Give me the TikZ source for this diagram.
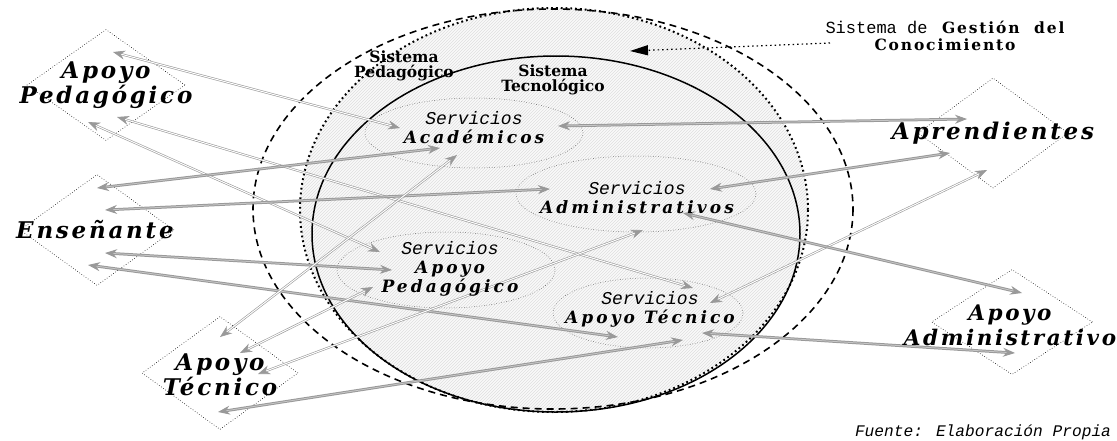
\documentclass[tikz,border=0pt]{standalone}
\usepackage{fontspec}
\setmainfont{DejaVu Serif}
\newfontfamily\anchafnt[LetterSpace=12]{DejaVu Serif}
\newfontfamily\servfnt[LetterSpace=18]{DejaVu Serif}
\newfontfamily\monofnt{Liberation Mono}
\usepackage{tikz}
\usetikzlibrary{arrows.meta,positioning,calc,shapes.geometric,patterns}

\tikzset{
  actor/.style={draw, dotted, diamond, inner sep=0pt, line width=0.6pt},
  actortxt/.style={font=\anchafnt\bfseries\itshape\fontsize{23}{25}\selectfont, align=center, inner sep=0pt},
  servicio/.style={draw=black!80, dotted, ellipse, inner sep=0pt, line width=0.5pt},
  servtxt/.style={font=\fontsize{17}{19}\selectfont, align=center, inner sep=0pt},
  sistxt/.style={font=\bfseries\fontsize{15.5}{14.5}\selectfont, align=center, inner sep=0pt},
  conn/.style={draw=gray!80, line width=0.6pt, double=white, double distance=1pt, <->, >={Stealth[length=12pt,width=9pt,color=gray!80,fill=gray!80]}},
  conng/.style={conn, line width=1pt, double=gray!45, double distance=0.8pt},
}

\begin{document}
\begin{tikzpicture}[x=1pt,y=-1pt]
  \useasboundingbox (0,0) rectangle (1117,440); % 図全体の範囲
  \fill[gray!4] (554,210) ellipse [x radius=254, y radius=202]; % 内側の地色
  \fill[pattern=north east lines, pattern color=gray!25] (554,210) ellipse [x radius=254, y radius=202]; % 斜線の網掛け
  \draw[line width=1.6pt, dash pattern=on 7pt off 5pt] (553,209) ellipse [x radius=300, y radius=200]; % 知識管理システム（破線）
  \draw[line width=2pt, dash pattern=on 1.8pt off 3pt] (554,210) ellipse [x radius=254, y radius=202]; % 教育システム（点線）
  \draw[line width=1.5pt] (556,234) ellipse [x radius=244, y radius=178]; % 技術システム（実線）

  \node[servicio, minimum width=218pt, minimum height=70pt] (acad) at (474,133) {}; % 学術サービス
  \node[servicio, minimum width=240pt, minimum height=76pt] (adm) at (636,194) {}; % 管理サービス
  \node[servicio, minimum width=218pt, minimum height=76pt] (svped) at (446,270) {}; % 教育支援サービス
  \node[servicio, minimum width=190pt, minimum height=70pt] (svtec) at (648,313) {}; % 技術支援サービス

  \node[actor, minimum width=158pt, minimum height=111pt] (apped) at (106,85) {}; % 教育支援者
  \node[actor, minimum width=154pt, minimum height=111pt] (ens) at (97,230) {}; % 教える人
  \node[actor, minimum width=156pt, minimum height=113pt] (aptec) at (220,373) {}; % 技術支援者
  \node[actor, minimum width=150pt, minimum height=110pt] (apr) at (993,133) {}; % 学ぶ人
  \node[actor, minimum width=161pt, minimum height=105pt] (apadm) at (1012,322) {}; % 管理支援者

  \draw[conn] ([shift={(7,-33)}]apped.center) -- ([shift={(-74,-5)}]acad.center); % 教育支援者と学術
  \draw[conn] ([shift={(11,32)}]apped.center) -- ([shift={(45,-25)}]svtec.center); % 教育支援者と技術支援
  \draw[conn] ([shift={(-18,37)}]apped.center) -- ([shift={(-66,-18)}]svped.center); % 教育支援者と教育支援
  \draw[conng] ([shift={(0,-42)}]ens.center) -- ([shift={(-34,15)}]acad.center); % 教える人と学術
  \draw[conng] ([shift={(8,-20)}]ens.center) -- ([shift={(-86,-5)}]adm.center); % 教える人と管理
  \draw[conng] ([shift={(8,23)}]ens.center) -- ([shift={(-54,0)}]svped.center); % 教える人と教育支援
  \draw[conng] ([shift={(-9,35)}]ens.center) -- ([shift={(-30,24)}]svtec.center); % 教える人と技術支援
  \draw[conn] ([shift={(0,-36)}]aptec.center) -- ([shift={(-17,22)}]acad.center); % 技術支援者と学術
  \draw[conn] ([shift={(20,-20)}]aptec.center) -- ([shift={(-73,17)}]svped.center); % 技術支援者と教育支援
  \draw[conn] ([shift={(38,1)}]aptec.center) -- ([shift={(7,36)}]adm.center); % 技術支援者と管理
  \draw[conng] ([shift={(-2,39)}]aptec.center) -- ([shift={(35,27)}]svtec.center); % 技術支援者と技術支援
  \draw[conng] ([shift={(84,-7)}]acad.center) -- ([shift={(-26,-14)}]apr.center); % 学術と学ぶ人
  \draw[conng] ([shift={(74,-5)}]adm.center) -- ([shift={(-43,20)}]apr.center); % 管理と学ぶ人
  \draw[conn] ([shift={(62,-10)}]svtec.center) -- ([shift={(-6,37)}]apr.center); % 技術支援と学ぶ人
  \draw[conng] ([shift={(47,19)}]adm.center) -- ([shift={(10,-29)}]apadm.center); % 管理と管理支援者
  \draw[conng] ([shift={(54,20)}]svtec.center) -- ([shift={(3,31)}]apadm.center); % 技術支援と管理支援者

  \node[servtxt] (acadT) at (474,128) {{\monofnt\itshape\fontsize{18}{19}\selectfont Servicios}\\{\servfnt\bfseries\itshape Académicos}}; % 学術サービスの文字
  \node[servtxt] (admT) at (637,198) {{\monofnt\itshape\fontsize{18}{19}\selectfont Servicios}\\{\servfnt\bfseries\itshape Administrativos}}; % 管理サービスの文字
  \node[servtxt] (svpedT) at (450,269) {{\monofnt\itshape\fontsize{18}{19}\selectfont Servicios}\\{\servfnt\bfseries\itshape Apoyo}\\{\servfnt\bfseries\itshape Pedagógico}}; % 教育支援サービスの文字
  \node[servtxt] (svtecT) at (650,309) {{\monofnt\itshape\fontsize{18}{19}\selectfont Servicios}\\{\servfnt\bfseries\itshape Apoyo Técnico}}; % 技術支援サービスの文字

  \node[actortxt] (appedT) at (106,85) {Apoyo\\Pedagógico}; % 教育支援者の文字
  \node[actortxt] (ensT) at (95,230) {Enseñante}; % 教える人の文字
  \node[actortxt] (aptecT) at (220,375) {Apoyo\\Técnico}; % 技術支援者の文字
  \node[actortxt] (aprT) at (993,133) {Aprendientes}; % 学ぶ人の文字
  \node[actortxt, font=\anchafnt\bfseries\itshape\fontsize{21.5}{25}\selectfont] (apadmT) at (1010,325) {Apoyo\\Administrativo}; % 管理支援者の文字

  \node[sistxt] (sisped) at (404,66) {Sistema\\Pedagógico}; % 教育システムの名前
  \node[sistxt] (sistec) at (553,80) {Sistema\\Tecnológico}; % 技術システムの名前
  \node[font=\anchafnt\bfseries\fontsize{15.5}{17}\selectfont, align=center, inner sep=0pt] (sgc) at (945,36) {{\monofnt\mdseries\fontsize{17}{17}\selectfont Sistema de}\ \ Gestión\ \ del\\Conocimiento}; % 知識管理システムの名前
  \coordinate (sgcTip) at (630,51); % 矢印の先
  \draw[line width=1.2pt, dash pattern=on 1.5pt off 3pt, -{Triangle[length=18pt,width=10pt]}] ([shift={(-115,7)}]sgc.center) -- (sgcTip); % 名前から破線へ
  \node[font=\monofnt\itshape\fontsize{16.2}{18}\selectfont, inner sep=0pt] (fuente) at (983,432) {Fuente: Elaboración Propia}; % 出典
\end{tikzpicture}
\end{document}
